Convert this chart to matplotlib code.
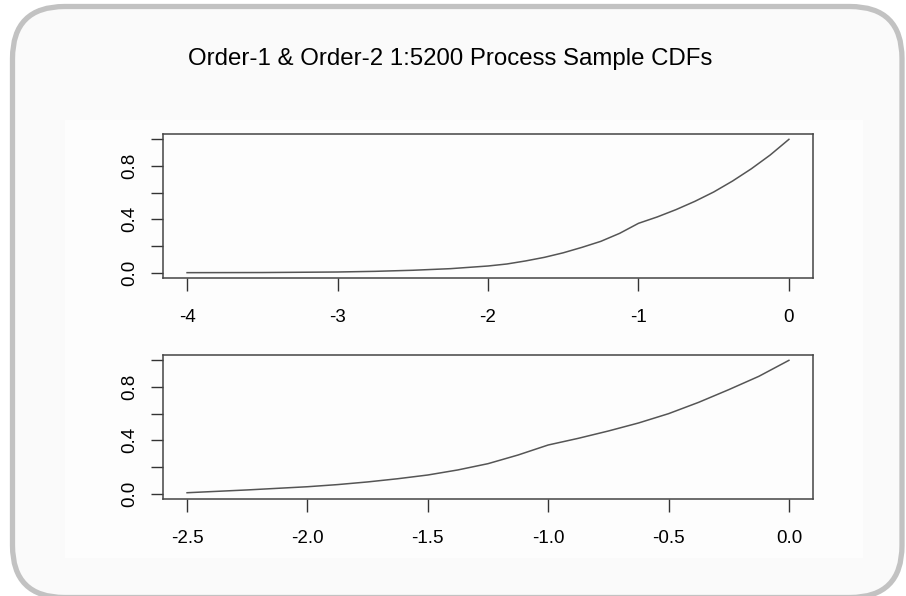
import numpy as np
import matplotlib.pyplot as plt
from matplotlib.patches import FancyBboxPatch, Rectangle

# Дані
title = "Order-1 & Order-2 1:5200 Process Sample CDFs"

order1_x = [-4.0, -3.5, -3.0, -2.75, -2.5, -2.25, -2.0, -1.875, -1.75, -1.625, -1.5, -1.375,
            -1.25, -1.125, -1.0, -0.875, -0.75, -0.625, -0.5, -0.375, -0.25, -0.125, 0.0]
order1_y = [0.0, 0.001, 0.005, 0.01, 0.018, 0.03, 0.05, 0.065, 0.088, 0.115, 0.149, 0.19,
            0.235, 0.295, 0.37, 0.418, 0.473, 0.535, 0.605, 0.687, 0.779, 0.882, 1.0]

order2_x = [-2.5, -2.25, -2.0, -1.875, -1.75, -1.625, -1.5, -1.375, -1.25, -1.125, -1.0,
            -0.875, -0.75, -0.625, -0.5, -0.375, -0.25, -0.125, 0.0]
order2_y = [0.007, 0.028, 0.052, 0.068, 0.088, 0.112, 0.14, 0.178, 0.225, 0.29, 0.365,
            0.415, 0.47, 0.53, 0.6, 0.685, 0.78, 0.88, 1.0]

order1_ticks = [-4, -3, -2, -1, 0]
order1_labels = ["-4", "-3", "-2", "-1", "0"]
order2_ticks = [-2.5, -2.0, -1.5, -1.0, -0.5, 0.0]
order2_labels = ["-2.5", "-2.0", "-1.5", "-1.0", "-0.5", "0.0"]
y_ticks = [0.0, 0.2, 0.4, 0.6, 0.8, 1.0]
y_labels = ["0.0", "", "0.4", "", "0.8", ""]

plt.rcParams['font.family'] = ['Liberation Sans', 'DejaVu Sans']

W, H = 906, 596
fig = plt.figure(figsize=(W / 100, H / 100), dpi=100)
fig.patch.set_facecolor('white')

# Фонова рамка із заокругленими кутами (у пікселях), низ обрізано краєм
bg = fig.add_axes([0, 0, 1, 1])
bg.set_xlim(0, W)
bg.set_ylim(H, 0)
bg.axis('off')
frame = FancyBboxPatch((12.5, 6.5), 889.5, 591, boxstyle="round,pad=0,rounding_size=52",
                       facecolor='#fafafa', edgecolor='#c2c2c2', linewidth=3.8)
bg.add_patch(frame)
bg.add_patch(Rectangle((65, 120), 798, 438, facecolor='#fdfdfd', edgecolor='none'))
bg.text(450, 59, title, fontsize=17.3, ha='center', va='center')


def style_axes(ax, xticks, xlabels, xlim):
    ax.set_facecolor('none')
    ax.set_xlim(*xlim)
    ax.set_ylim(-0.04, 1.04)
    ax.set_xticks(xticks)
    ax.set_xticklabels(xlabels)
    ax.set_yticks(y_ticks)
    ax.set_yticklabels(y_labels, rotation=90, va='center')
    ax.tick_params(direction='out', length=9, width=1.0, labelsize=13.5, color='#333333')
    ax.tick_params(axis='x', pad=13)
    ax.tick_params(axis='y', pad=9)
    for s in ax.spines.values():
        s.set_color('#444444')
        s.set_linewidth(1.1)


ax1 = fig.add_axes([163 / W, 1 - 278 / H, 650 / W, 144 / H])
ax1.plot(order1_x, order1_y, color='#555555', linewidth=1.1)
style_axes(ax1, order1_ticks, order1_labels, (-4.16, 0.16))

ax2 = fig.add_axes([163 / W, 1 - 499 / H, 650 / W, 144 / H])
ax2.plot(order2_x, order2_y, color='#555555', linewidth=1.1)
style_axes(ax2, order2_ticks, order2_labels, (-2.6, 0.1))

fig.savefig('out.png', dpi=100)
